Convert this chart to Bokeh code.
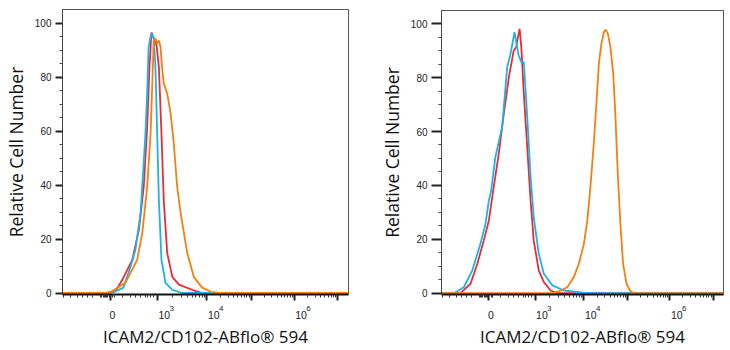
from bokeh.plotting import figure
from bokeh.layouts import row, column
from bokeh.models import Range1d, FixedTicker, CustomLabelingPolicy
from bokeh.core.properties import value
from bokeh.embed import file_html
from bokeh.resources import INLINE
import math

# Display (channel) scale of the biexponential axis: 0..1000 across the plot frame.
# Tick positions and labels of the biexponential fluorescence axis
x_major_ticks = [168, 332, 505, 660, 810, 963]
x_label_ticks = [168, 332, 505, 810]
x_label_base = ["0", "10", "10", "10"]
x_label_power = ["", "3", "4", "6"]
# negative region and 0..10^3 region minor ticks
x_minor_low = [3, 28, 52, 70, 87, 105, 133, 138, 143, 147, 151, 155, 159, 163, 176, 182,
               209, 238, 255, 273, 290, 298, 308, 318]
decade_ticks = [332, 505, 660, 810, 963]

y_major_ticks = [0, 20, 40, 60, 80, 100]
y_minor_ticks = [5, 10, 15, 25, 30, 35, 45, 50, 55, 65, 70, 75, 85, 90, 95]

x_title = "ICAM2/CD102-ABflo® 594"
y_title = "Relative Cell Number"

# Left panel histograms (x in channel units, y = relative cell number)
left_red_x = [0, 162, 185, 209, 244, 267, 284, 296, 304, 311, 318, 329, 337, 346, 354, 366, 384, 407, 453, 488, 1000]
left_red_y = [0, 0, 0.6, 4.9, 12.3, 23.4, 39.3, 61.5, 83.6, 96.6, 94.7, 91.8, 83.6, 59.2, 34.5, 14.9, 6.0, 3.1, 1.2, 0, 0]

left_cyan_x = [0, 150, 185, 213, 238, 255, 273, 283, 290, 296, 301, 310, 319, 325, 331, 337, 346, 360, 384, 419, 1000]
left_cyan_y = [0, 0, 0.6, 2.0, 9.8, 16.0, 29.7, 46.7, 59.2, 74.0, 91.0, 96.2, 94.7, 83.6, 59.2, 34.5, 12.3, 3.8, 1.2, 0, 0]

left_orange_x = [0, 150, 174, 220, 261, 279, 296, 308, 314, 319, 325, 331, 337, 343, 348, 354, 366, 378, 389, 401, 413, 436, 459, 488, 523, 547, 1000]
left_orange_y = [0, 0, 0.7, 3.8, 12.3, 22.3, 39.3, 59.2, 77.7, 93.6, 94.3, 92.5, 93.6, 91.0, 83.6, 77.7, 74.0, 66.6, 55.5, 39.3, 29.7, 14.9, 6.0, 2.0, 0.3, 0, 0]

# Right panel histograms
right_red_x = [0, 67, 103, 127, 150, 168, 185, 203, 221, 239, 256, 265, 271, 277, 283, 292, 304, 316, 327, 345, 363, 387, 410, 1000]
right_red_y = [0, 0, 3.5, 10.9, 19.6, 27.0, 39.3, 51.7, 66.6, 80.2, 90.0, 91.3, 95.0, 98.1, 91.3, 74.0, 54.2, 34.4, 19.6, 8.4, 4.1, 1.0, 0, 0]

right_cyan_x = [0, 44, 79, 109, 138, 156, 168, 176, 191, 215, 233, 245, 259, 268, 274, 283, 292, 304, 316, 327, 345, 363, 393, 434, 503, 560, 1000]
right_cyan_y = [0, 0, 2.2, 8.4, 18.3, 25.8, 34.4, 38.0, 50.5, 61.6, 83.9, 88.9, 96.9, 91.3, 88.2, 85.7, 85.7, 65.3, 43.0, 28.2, 14.6, 7.2, 2.9, 1.0, 0.2, 0, 0]

right_orange_x = [0, 398, 422, 446, 469, 487, 505, 517, 528, 540, 550, 558, 567, 576, 582, 590, 599, 609, 617, 625, 635, 644, 656, 670, 682, 1000]
right_orange_y = [0, 0, 1.0, 2.2, 5.9, 10.9, 18.3, 27.0, 39.3, 55.5, 71.5, 85.2, 92.6, 96.9, 97.8, 96.3, 91.3, 81.4, 65.3, 44.3, 24.5, 10.9, 3.5, 0.7, 0, 0]

RED = "#ec2a33"
CYAN = "#1cb4e6"
ORANGE = "#f28012"
TEXT = "#222222"

x_minor_ticks = list(x_minor_low)
for a, b in zip(decade_ticks[:-1], decade_ticks[1:]):
    for k in range(2, 10):
        x_minor_ticks.append(a + math.log10(k) * (b - a))
for k in range(2, 5):
    x_minor_ticks.append(963 + math.log10(k) * 153)

MAIN_BOTTOM = 8          # border under the plot frame (x ticks only)
STRIP_H = 350 - 9 - 285 - MAIN_BOTTOM  # strip holding x tick texts and the x title

# x tick texts are drawn in the strip below, so the axis itself shows none
no_labels = CustomLabelingPolicy(code="""
const ids = [...indices]
for (const i of ids) indices.unset(i)
return indices
""")


def histogram_panel(frame_left, frame_right_border, frame_w, frame_top, frame_h, y_top, y_bottom,
                    y_tick_out, series):
    x_range = Range1d(0, 1000)
    p = figure(frame_width=frame_w, frame_height=frame_h, title=None,
               min_border_left=frame_left, min_border_right=frame_right_border,
               min_border_top=frame_top, min_border_bottom=MAIN_BOTTOM,
               x_range=x_range, y_range=Range1d(y_bottom, y_top),
               output_backend="svg", toolbar_location=None)
    p.background_fill_color = "white"
    p.border_fill_color = "white"
    p.outline_line_color = "#555555"
    p.outline_line_width = 1
    p.xgrid.visible = False
    p.ygrid.visible = False

    for xs, ys, col in series:
        p.line(xs, ys, line_color=col, line_width=1.8)

    xa = p.xaxis[0]
    xa.ticker = FixedTicker(ticks=x_major_ticks, minor_ticks=x_minor_ticks)
    xa.major_label_policy = no_labels
    xa.major_label_text_font_size = "1px"
    xa.major_label_standoff = 0
    xa.major_tick_in = 0
    xa.major_tick_out = 6
    xa.minor_tick_in = 0
    xa.minor_tick_out = 3
    xa.major_tick_line_color = "#222222"
    xa.minor_tick_line_color = "#333333"
    xa.major_tick_line_width = 2
    xa.axis_line_color = "#111111"
    xa.axis_line_width = 2

    ya = p.yaxis[0]
    ya.ticker = FixedTicker(ticks=y_major_ticks, minor_ticks=y_minor_ticks)
    ya.major_label_text_font = "Liberation Sans"
    ya.major_label_text_font_size = "10px"
    ya.major_label_text_color = TEXT
    ya.major_label_standoff = 4
    ya.major_tick_in = 0
    ya.major_tick_out = y_tick_out
    ya.minor_tick_in = 0
    ya.minor_tick_out = 3
    ya.major_tick_line_width = 2
    ya.major_tick_line_color = "#222222"
    ya.minor_tick_line_color = "#444444"
    ya.axis_line_color = "#444444"
    ya.axis_line_width = 1
    ya.axis_label = y_title
    ya.axis_label_text_font = "Open Sans"
    ya.axis_label_text_font_size = "17.5px"
    ya.axis_label_text_font_style = "normal"
    ya.axis_label_text_color = "#111111"
    ya.axis_label_standoff = 4

    # strip under the plot: tick texts (base with raised exponent) and the x title
    s = figure(frame_width=frame_w, frame_height=STRIP_H, title=None,
               min_border_left=frame_left, min_border_right=frame_right_border,
               min_border_top=0, min_border_bottom=0,
               x_range=x_range, y_range=Range1d(-STRIP_H, 0),
               x_axis_type=None, y_axis_type=None,
               output_backend="svg", toolbar_location=None)
    s.outline_line_color = None
    s.xgrid.visible = False
    s.ygrid.visible = False
    s.background_fill_color = "white"
    s.border_fill_color = "white"

    # y in the strip counts pixels downward from its top edge (negative values)
    s.text(x=x_label_ticks, y=[-6.5] * len(x_label_ticks), text=x_label_base,
           x_offset=[1 if pw else -1 for pw in x_label_power],
           text_baseline="top", text_align="left",
           text_font=value("Liberation Sans"), text_font_size="10.5px", text_color=TEXT)
    pw_ticks = [t for t, pw in zip(x_label_ticks, x_label_power) if pw]
    pw_text = [pw for pw in x_label_power if pw]
    s.text(x=pw_ticks, y=[-1] * len(pw_ticks), text=pw_text, x_offset=12,
           text_baseline="top", text_align="left",
           text_font=value("Liberation Sans"), text_font_size="8px", text_color=TEXT)
    s.text(x=[500], y=[-32], text=[x_title], text_baseline="alphabetic", text_align="center",
           text_font=value("Open Sans"), text_font_size="17px", text_color="#111111")
    return column(p, s, spacing=0)


left = histogram_panel(57, 22, 286, 9, 285, 105.1, -0.55, 7,
                       [(left_red_x, left_red_y, RED),
                        (left_cyan_x, left_cyan_y, CYAN),
                        (left_orange_x, left_orange_y, ORANGE)])
right = histogram_panel(71, 12, 282, 10, 284, 104.9, -0.48, 10,
                        [(right_red_x, right_red_y, RED),
                         (right_cyan_x, right_cyan_y, CYAN),
                         (right_orange_x, right_orange_y, ORANGE)])

layout = row(left, right, spacing=0)
open("out.html", "w").write(file_html(layout, INLINE))
